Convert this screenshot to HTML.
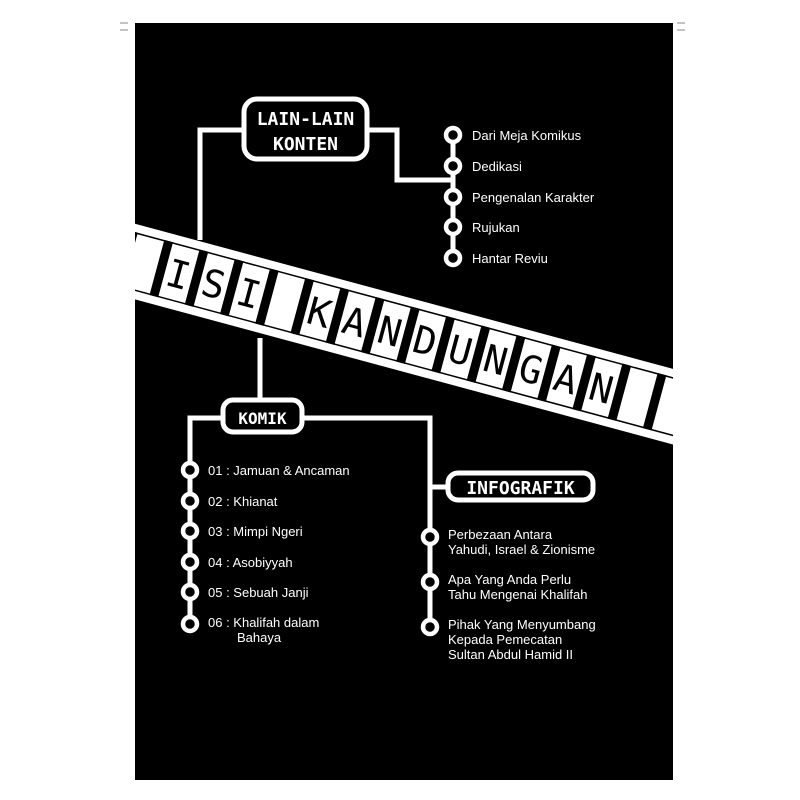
<!DOCTYPE html>
<html><head><meta charset="utf-8"><style>
html,body{margin:0;padding:0;background:#fff;}
svg{display:block}
.t{font-family:"Liberation Sans",sans-serif;font-size:13px;fill:#fff;}
.m{font-family:"DejaVu Sans Mono","Liberation Mono",monospace;font-weight:bold;fill:#fff;}
</style></head><body>
<svg width="800" height="800" viewBox="0 0 800 800" xmlns="http://www.w3.org/2000/svg">
<defs><clipPath id="p"><rect x="135" y="23" width="538" height="757"/></clipPath></defs>
<rect x="135" y="23" width="538" height="757" fill="#000"/>
<g stroke="#888" stroke-width="1"><line x1="120" y1="23" x2="128" y2="23"/><line x1="120" y1="30" x2="128" y2="30"/><line x1="677" y1="23" x2="685" y2="23"/><line x1="677" y1="30" x2="685" y2="30"/></g>
<g clip-path="url(#p)">
<g transform="translate(136,224) rotate(15.1)">
<rect x="-30" y="0" width="680" height="73" fill="#fff"/>
<rect x="-30" y="8" width="680" height="1.5" fill="#000"/>
<rect x="-30" y="63.5" width="680" height="1.5" fill="#000"/>
<g fill="#000">
<rect x="-5" y="8" width="9" height="57"/><rect x="31.5" y="8" width="9" height="57"/><rect x="68" y="8" width="9" height="57"/><rect x="104.5" y="8" width="9" height="57"/><rect x="141" y="8" width="9" height="57"/><rect x="177.5" y="8" width="9" height="57"/><rect x="214" y="8" width="9" height="57"/><rect x="250.5" y="8" width="9" height="57"/><rect x="287" y="8" width="9" height="57"/><rect x="323.5" y="8" width="9" height="57"/><rect x="360" y="8" width="9" height="57"/><rect x="396.5" y="8" width="9" height="57"/><rect x="433" y="8" width="9" height="57"/><rect x="469.5" y="8" width="9" height="57"/><rect x="506" y="8" width="9" height="57"/><rect x="542.5" y="8" width="9" height="57"/><rect x="579" y="8" width="9" height="57"/><rect x="615.5" y="8" width="9" height="57"/>
</g>
<g font-family="DejaVu Sans Mono,Liberation Mono,monospace" font-size="38" fill="#000" text-anchor="middle">
<text x="54" y="51">I</text><text x="90.5" y="51">S</text><text x="127" y="51">I</text>
<text x="200" y="51">K</text><text x="236.5" y="51">A</text><text x="273" y="51">N</text><text x="309.5" y="51">D</text><text x="346" y="51">U</text><text x="382.5" y="51">N</text><text x="419" y="51">G</text><text x="455.5" y="51">A</text><text x="492" y="51">N</text>
</g>
</g>
</g>
<g stroke="#fff" stroke-width="5" fill="none">
<polyline points="245,130 200,130 200,240"/>
<polyline points="366,130 397,130 397,180 453,180"/>
<line x1="453" y1="135" x2="453" y2="258"/>
<rect x="244" y="99" width="123" height="60" rx="13"/>
<line x1="260" y1="338" x2="260" y2="400"/>
<polyline points="223,418 190,418 190,625"/>
<polyline points="302,418 430,418 430,627"/>
<line x1="430" y1="487" x2="448" y2="487"/>
<rect x="223" y="400" width="79" height="32" rx="10"/>
<rect x="448" y="473" width="145" height="27" rx="10"/>
</g>
<g fill="#000" stroke="#fff" stroke-width="4.5">
<circle cx="453" cy="135" r="7"/><circle cx="453" cy="166" r="7"/><circle cx="453" cy="197" r="7"/><circle cx="453" cy="227" r="7"/><circle cx="453" cy="258" r="7"/>
<circle cx="190" cy="470" r="7"/><circle cx="190" cy="501" r="7"/><circle cx="190" cy="531" r="7"/><circle cx="190" cy="562" r="7"/><circle cx="190" cy="592" r="7"/><circle cx="190" cy="624" r="7"/>
<circle cx="430" cy="537" r="7"/><circle cx="430" cy="582" r="7"/><circle cx="430" cy="627" r="7"/>
</g>
<text class="m" x="305.5" y="125" font-size="18" text-anchor="middle">LAIN-LAIN</text>
<text class="m" x="305.5" y="150" font-size="18" text-anchor="middle">KONTEN</text>
<text class="m" x="262.5" y="424" font-size="16" text-anchor="middle">KOMIK</text>
<text class="m" x="520.5" y="494" font-size="18" text-anchor="middle">INFOGRAFIK</text>
<g class="t">
<text x="472" y="140">Dari Meja Komikus</text>
<text x="472" y="171">Dedikasi</text>
<text x="472" y="202">Pengenalan Karakter</text>
<text x="472" y="232">Rujukan</text>
<text x="472" y="263">Hantar Reviu</text>
<text x="208" y="475">01 : Jamuan &amp; Ancaman</text>
<text x="208" y="506">02 : Khianat</text>
<text x="208" y="536">03 : Mimpi Ngeri</text>
<text x="208" y="567">04 : Asobiyyah</text>
<text x="208" y="597">05 : Sebuah Janji</text>
<text x="208" y="627">06 : Khalifah dalam</text>
<text x="237" y="642">Bahaya</text>
<text x="448" y="539">Perbezaan Antara</text>
<text x="448" y="554">Yahudi, Israel &amp; Zionisme</text>
<text x="448" y="584">Apa Yang Anda Perlu</text>
<text x="448" y="599">Tahu Mengenai Khalifah</text>
<text x="448" y="629">Pihak Yang Menyumbang</text>
<text x="448" y="644">Kepada Pemecatan</text>
<text x="448" y="659">Sultan Abdul Hamid II</text>
</g>
</svg>
</body></html>
